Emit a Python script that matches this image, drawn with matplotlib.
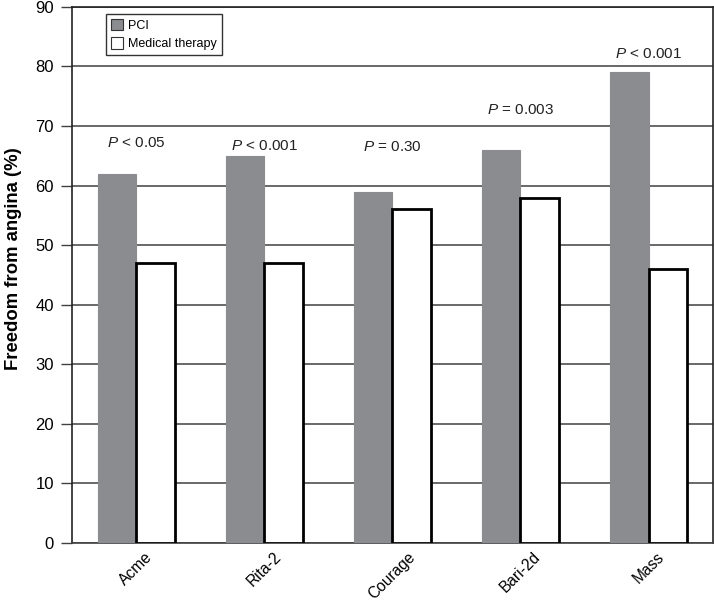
import numpy as np
import matplotlib
matplotlib.use("Agg")
from matplotlib import pyplot as plt
from matplotlib.patches import Patch
from matplotlib.transforms import ScaledTranslation

plt.rcParams['font.family'] = ['Liberation Sans', 'DejaVu Sans']
plt.rcParams['mathtext.fontset'] = 'custom'
plt.rcParams['mathtext.it'] = 'Liberation Sans:italic'

trials = ["Acme", "Rita-2", "Courage", "Bari-2d", "Mass"]
pci = [62, 65, 59, 66, 79]
medical = [47, 47, 56, 58, 46]
p_labels = ["< 0.05", "< 0.001", "= 0.30", "= 0.003", "< 0.001"]
p_heights = [66.5, 66.0, 65.8, 72.0, 81.4]

fig = plt.figure(figsize=(7.14, 6.03), dpi=100)
ax = fig.add_axes([0.101, 0.0995, 0.897, 0.889])

x = np.arange(len(trials))
w = 0.3
ax.bar(x - w / 2, pci, w, color="#8b8c90", edgecolor="#8b8c90", linewidth=0.8, zorder=3)
ax.bar(x + w / 2, medical, w, color="white", edgecolor="black", linewidth=2, zorder=3)

for xi, lab, h in zip(x, p_labels, p_heights):
    ax.text(xi, h, "$P$ " + lab, ha="center", va="baseline", fontsize=11, color="#222222")

ax.set_xlim(-0.5, len(trials) - 0.5)
ax.set_ylim(0, 90)
ax.set_yticks(range(0, 91, 10))
ax.yaxis.grid(True, color="#404040", linewidth=1.1, zorder=0)
ax.set_axisbelow(True)
ax.set_xticks(x)
ax.set_xticklabels(trials, rotation=45, ha="center", va="top", fontsize=11.2)
shift = ScaledTranslation(8 / 100, 0, fig.dpi_scale_trans)
for lbl in ax.get_xticklabels():
    lbl.set_transform(lbl.get_transform() + shift)
ax.tick_params(axis="x", length=0, pad=4.5)
ax.tick_params(axis="y", labelsize=12, length=8, width=1, pad=5, direction="out", color="#404040")
for s in ax.spines.values():
    s.set_color("#222222")
    s.set_linewidth(1.2)
ax.spines["bottom"].set_color("#404040")

ax.set_ylabel("Freedom from angina (%)", fontsize=13.3, fontweight="bold")
ax.yaxis.set_label_coords(-0.079, 0.53)

handles = [Patch(facecolor="#8b8c90", edgecolor="#333333", linewidth=0.8, label="PCI"),
           Patch(facecolor="white", edgecolor="#333333", linewidth=0.8, label="Medical therapy")]
leg = ax.legend(handles=handles, loc="upper left", bbox_to_anchor=(0.053, 0.987), fontsize=9,
                frameon=True, fancybox=False, edgecolor="#333333", framealpha=1,
                handlelength=0.95, handleheight=1.0, handletextpad=0.4,
                borderpad=0.4, labelspacing=0.45, borderaxespad=0)
leg.get_frame().set_linewidth(1)

fig.savefig("out.png", dpi=100)
